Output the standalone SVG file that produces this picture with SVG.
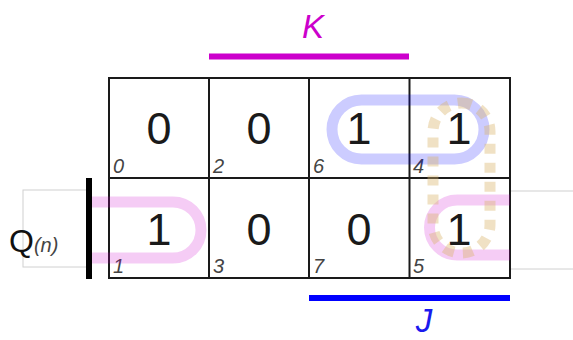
<svg xmlns="http://www.w3.org/2000/svg" width="573" height="340" viewBox="0 0 573 340">
<style>
.grid{fill:none;stroke:#1a1a1a;stroke-width:2}
.val{font-family:"Liberation Sans",Arial,sans-serif;font-size:45px;fill:#1a1a1a;text-anchor:middle}
.idx{font-family:"Liberation Sans",Arial,sans-serif;font-size:20px;font-style:italic;fill:#444}
.lbl{font-family:"Liberation Sans",Arial,sans-serif;font-style:italic;font-size:33px;text-anchor:middle}
.loop{fill:none;stroke-width:11;stroke-linecap:butt}
</style>
<rect width="573" height="340" fill="#fff"/>
<g id="labels">
<rect x="23" y="190" width="66" height="77" fill="none" stroke="#d0d0d0" stroke-width="1"/>
<rect x="510" y="191" width="70" height="78" fill="none" stroke="#d0d0d0" stroke-width="1"/>
<text x="9" y="252" font-family="'Liberation Sans',Arial,sans-serif" font-size="32" fill="#111">Q<tspan font-size="20" font-style="italic" fill="#444">(n)</tspan></text>
<line x1="89" y1="178" x2="89" y2="279" stroke="#000" stroke-width="6"/>
<line x1="209" y1="56.5" x2="409" y2="56.5" stroke="#cc00cc" stroke-width="6"/>
<text class="lbl" x="313" y="38" fill="#cc00cc">K</text>
<line x1="309" y1="298" x2="510" y2="298" stroke="#0000ff" stroke-width="6"/>
<text class="lbl" x="424" y="332" fill="#1a1aee">J</text>
</g>
<g id="grid">
<rect class="grid" x="109" y="78" width="401" height="200"/>
<line class="grid" x1="109" y1="178" x2="510" y2="178"/>
<line class="grid" x1="209" y1="78" x2="209" y2="278"/>
<line class="grid" x1="309" y1="78" x2="309" y2="278"/>
<line class="grid" x1="409.5" y1="78" x2="409.5" y2="278"/>
</g>
<g id="cells">
<g id="cell0"><text class="val" x="159" y="144">0</text><text class="idx" x="113" y="173">0</text></g>
<g id="cell2"><text class="val" x="259" y="144">0</text><text class="idx" x="213" y="173">2</text></g>
<g id="cell6"><text class="val" x="359" y="144">1</text><text class="idx" x="313" y="173">6</text></g>
<g id="cell4"><text class="val" x="459" y="144">1</text><text class="idx" x="413" y="173">4</text></g>
<g id="cell1"><text class="val" x="159" y="245">1</text><text class="idx" x="113" y="273">1</text></g>
<g id="cell3"><text class="val" x="259" y="245">0</text><text class="idx" x="213" y="273">3</text></g>
<g id="cell7"><text class="val" x="359" y="245">0</text><text class="idx" x="313" y="273">7</text></g>
<g id="cell5"><text class="val" x="459" y="245">1</text><text class="idx" x="413" y="273">5</text></g>
</g>
<g id="loops">
<path class="loop" d="M92 202H173A28 28 0 0 1 173 258H92" stroke="#cc00cc" stroke-opacity="0.2"/>
<path class="loop" d="M510 200H457A27.5 27.5 0 0 0 457 255H510" stroke="#cc00cc" stroke-opacity="0.2"/>
<rect class="loop" x="332" y="100" width="152" height="59" rx="29.5" stroke="#0000ff" stroke-opacity="0.2"/>
<rect class="loop" x="433" y="103" width="57" height="150" rx="28.5" stroke="#d9b36c" stroke-opacity="0.4" stroke-width="10" stroke-dasharray="10 9"/>
</g>
</svg>
